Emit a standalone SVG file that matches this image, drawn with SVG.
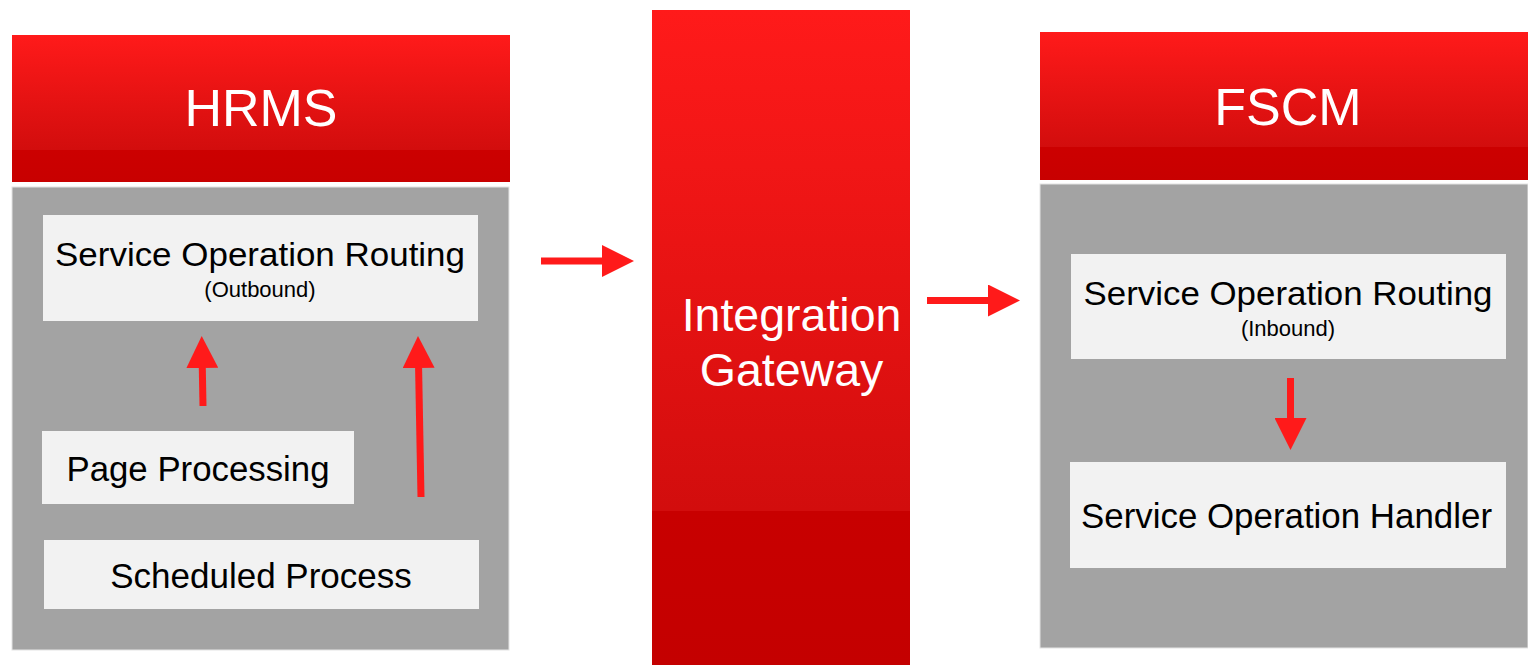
<svg xmlns="http://www.w3.org/2000/svg" width="1528" height="665" viewBox="0 0 1528 665">
  <defs>
    <linearGradient id="hdr" x1="0" y1="0" x2="0" y2="1">
      <stop offset="0" stop-color="#ff1a1a"/>
      <stop offset="0.78" stop-color="#d20d0d"/>
      <stop offset="0.78" stop-color="#cc0000"/>
      <stop offset="1" stop-color="#c80000"/>
    </linearGradient>
    <linearGradient id="gw" x1="0" y1="0" x2="0" y2="1">
      <stop offset="0" stop-color="#ff1a1a"/>
      <stop offset="0.765" stop-color="#d20d0d"/>
      <stop offset="0.765" stop-color="#c80000"/>
      <stop offset="1" stop-color="#c40000"/>
    </linearGradient>
    <marker id="ah" viewBox="0 0 32 32" markerWidth="32" markerHeight="32" markerUnits="userSpaceOnUse" refX="0" refY="16" orient="auto">
      <path d="M0,0 L32,16 L0,32 z" fill="#ff1a1a"/>
    </marker>
    <style>
      .hdr { fill: url(#hdr); }
      .body { fill: #a3a3a3; stroke: #e4e4e4; stroke-width: 1; }
      .box { fill: #f2f2f2; }
      .t { font-family: "Liberation Sans", Arial, sans-serif; fill: #000; text-anchor: middle; }
      .w { font-family: "Liberation Sans", Arial, sans-serif; fill: #fff; text-anchor: middle; }
      .arr { stroke: #ff1a1a; stroke-width: 7; fill: none; marker-end: url(#ah); }
    </style>
  </defs>

  <g id="hrms">
    <rect class="hdr" x="12" y="35" width="498" height="147"/>
    <text class="w" x="261" y="126" font-size="52">HRMS</text>
    <rect class="body" x="12" y="187" width="497" height="463"/>
  </g>
  <g id="sor-out">
    <rect class="box" x="43" y="215" width="435" height="106"/>
    <text class="t" x="260" y="266" font-size="34" textLength="410" lengthAdjust="spacingAndGlyphs">Service Operation Routing</text>
    <text class="t" x="260" y="297" font-size="22">(Outbound)</text>
  </g>
  <g id="page-processing">
    <rect class="box" x="42" y="431" width="312" height="73"/>
    <text class="t" x="198" y="481" font-size="34.8">Page Processing</text>
  </g>
  <g id="scheduled-process">
    <rect class="box" x="44" y="540" width="435" height="69"/>
    <text class="t" x="261" y="588" font-size="35">Scheduled Process</text>
  </g>

  <g id="gateway">
    <rect x="652" y="10" width="258" height="655" fill="url(#gw)"/>
    <text class="w" x="791.5" y="331" font-size="46.5">Integration</text>
    <text class="w" x="791.5" y="386" font-size="46.5">Gateway</text>
  </g>

  <g id="fscm">
    <rect class="hdr" x="1040" y="32" width="488" height="148"/>
    <text class="w" x="1288" y="125" font-size="52">FSCM</text>
    <rect class="body" x="1040" y="184" width="488" height="464"/>
  </g>
  <g id="sor-in">
    <rect class="box" x="1071" y="254" width="435" height="105"/>
    <text class="t" x="1288" y="305" font-size="34" textLength="409" lengthAdjust="spacingAndGlyphs">Service Operation Routing</text>
    <text class="t" x="1288" y="336" font-size="22">(Inbound)</text>
  </g>
  <g id="handler">
    <rect class="box" x="1070" y="462" width="436" height="106"/>
    <text class="t" x="1286.5" y="528" font-size="35" textLength="411" lengthAdjust="spacingAndGlyphs">Service Operation Handler</text>
  </g>

  <g id="connectors">
    <path class="arr" d="M203,406 L202.3,368"/>
    <path class="arr" d="M421,497 L418.6,368"/>
    <path class="arr" d="M541,261 L602,261"/>
    <path class="arr" d="M927,300.5 L988,300.5"/>
    <path class="arr" d="M1290.5,378 L1290.5,418"/>
  </g>
</svg>
